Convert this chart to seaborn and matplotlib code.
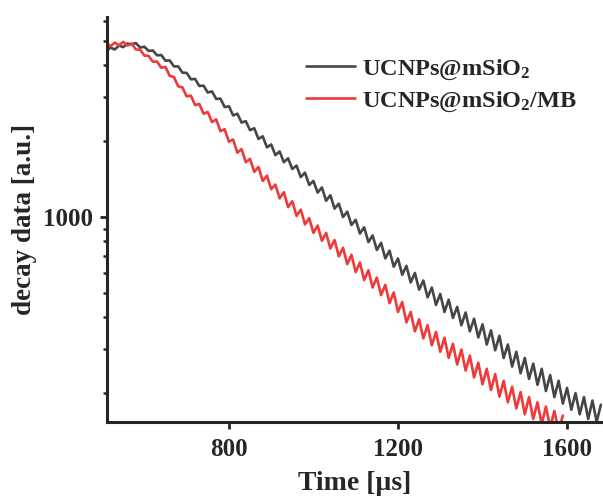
import numpy as np
import pandas as pd
import matplotlib
matplotlib.use("Agg")
import matplotlib.pyplot as plt
import matplotlib.ticker as mticker
import seaborn as sns

# time axis (µs), one reading every 10 µs
t_black = list(range(510, 1690, 10))
t_red = list(range(510, 1600, 10))

# decay traces (a.u.)
decay_black = [
    4560, 4700, 4620, 4790, 4720, 4880, 4840, 4900, 4700, 4740,
    4560, 4580, 4380, 4390, 4170, 4180, 3960, 3960, 3740, 3730,
    3520, 3530, 3310, 3320, 3120, 3150, 2940, 2950, 2730, 2750,
    2530, 2570, 2370, 2400, 2210, 2250, 2040, 2090, 1890, 1940,
    1760, 1820, 1650, 1710, 1550, 1600, 1440, 1500, 1340, 1390,
    1250, 1310, 1160, 1220, 1080, 1130, 1000, 1050, 930, 975,
    860, 910, 795, 845, 740, 790, 685, 735, 635, 685,
    590, 640, 550, 600, 515, 560, 480, 525, 448, 495,
    420, 470, 398, 440, 372, 418, 352, 395, 333, 375,
    312, 355, 296, 338, 276, 312, 255, 292, 240, 276,
    228, 262, 216, 250, 204, 236, 193, 224, 182, 210,
    172, 200, 165, 193, 158, 187, 154, 180,
]
decay_red = [
    4900, 4760, 4920, 4800, 4950, 4790, 4880, 4620, 4610, 4370,
    4360, 4130, 4140, 3910, 3940, 3630, 3590, 3300, 3270, 3010,
    3030, 2780, 2810, 2570, 2610, 2380, 2440, 2190, 2230, 1990,
    2030, 1800, 1860, 1650, 1700, 1510, 1580, 1390, 1460, 1290,
    1345, 1185, 1255, 1095, 1155, 1010, 1070, 935, 990, 865,
    925, 805, 865, 750, 810, 698, 755, 650, 708, 605,
    660, 562, 615, 525, 575, 490, 538, 455, 502, 420,
    460, 382, 420, 352, 393, 330, 372, 310, 350, 292,
    332, 276, 314, 260, 298, 246, 282, 231, 264, 217,
    250, 206, 238, 194, 224, 184, 212, 174, 202, 165,
    193, 158, 184, 151, 177, 146, 170, 142, 163,
]

labels = ["UCNPs@mSiO$_2$", "UCNPs@mSiO$_2$/MB"]
colors = ["#464646", "#ee3a3a"]

df = pd.concat([
    pd.DataFrame({"time": t_black, "decay": decay_black, "sample": labels[0]}),
    pd.DataFrame({"time": t_red, "decay": decay_red, "sample": labels[1]}),
])

sns.set_style("ticks")
plt.rcParams["font.family"] = ["Liberation Serif", "DejaVu Serif"]
plt.rcParams["font.weight"] = "bold"
plt.rcParams["mathtext.fontset"] = "custom"
plt.rcParams["mathtext.rm"] = "Liberation Serif:bold"
plt.rcParams["mathtext.it"] = "Liberation Serif:bold"
plt.rcParams["mathtext.bf"] = "Liberation Serif:bold"

fig = plt.figure(figsize=(6.03, 4.98), dpi=100)
ax = fig.add_axes([0.177, 0.153, 0.823, 0.813])

sns.lineplot(data=df, x="time", y="decay", hue="sample", palette=colors,
             estimator=None, sort=False, linewidth=1.9, ax=ax)

ax.set_yscale("log")
ax.set_xlim(511, 1685)
ax.set_ylim(154, 6220)
ax.set_xticks([800, 1200, 1600])
ax.yaxis.set_major_locator(mticker.FixedLocator([1000]))
ax.yaxis.set_major_formatter(mticker.FuncFormatter(lambda v, p: f"{v:.0f}"))
ax.yaxis.set_minor_locator(mticker.LogLocator(base=10, subs=np.arange(2, 10)))
ax.yaxis.set_minor_formatter(mticker.NullFormatter())

for s in ["top", "right"]:
    ax.spines[s].set_visible(False)
for s in ["left", "bottom"]:
    ax.spines[s].set_linewidth(2.2)
ax.tick_params(axis="both", which="major", direction="out", length=5,
               width=2.0, labelsize=18, pad=5)
ax.tick_params(axis="x", which="major", pad=7)
ax.tick_params(axis="y", which="minor", direction="out", length=3, width=1.8)
ax.tick_params(axis="x", which="minor", bottom=False)

ax.set_xlabel("Time [µs]", fontsize=20, fontweight="bold", labelpad=7)
ax.set_ylabel("decay data [a.u.]", fontsize=19.5, fontweight="bold", labelpad=4)

ax.legend(loc="upper left", bbox_to_anchor=(0.508, 0.884),
          bbox_transform=fig.transFigure, frameon=False,
          handlelength=2.0, handletextpad=0.3, labelspacing=0.31,
          borderpad=0, borderaxespad=0,
          prop={"family": "Liberation Serif", "weight": "bold", "size": 17.5})

fig.savefig("out.png", dpi=100)
